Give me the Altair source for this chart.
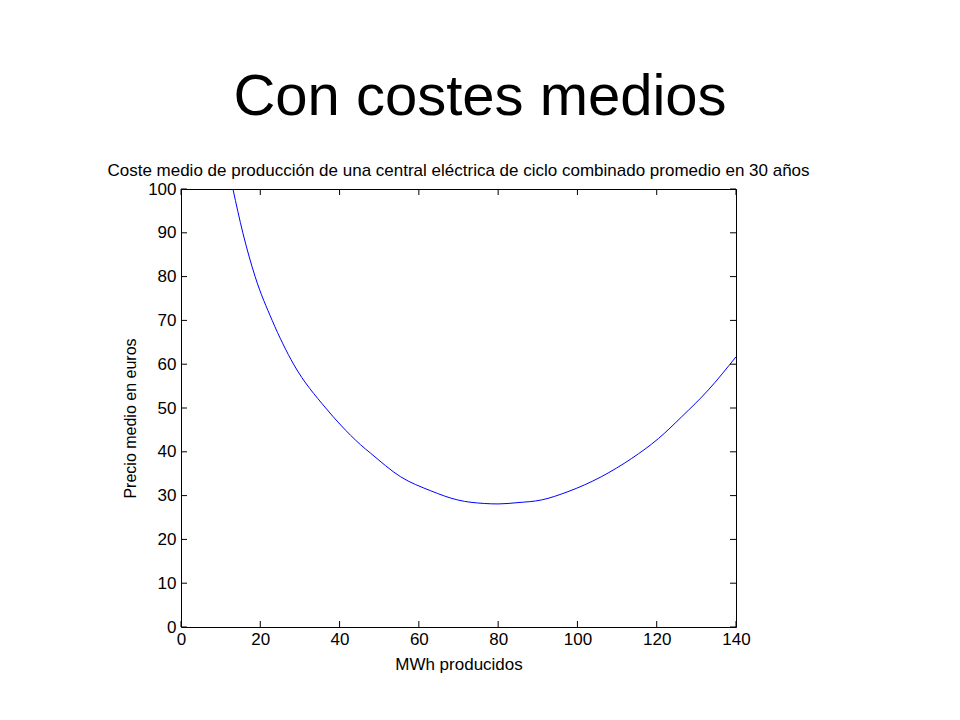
import altair as alt
import pandas as pd

# Data
mwh = [13.1, 15.6, 18.7, 23.0, 28.4, 36.5, 40.3, 45.3, 47.8, 55.4, 63.0, 69.8, 76.5, 80.0,
       85.0, 90.9, 97.6, 106.0, 113.7, 120.4, 126.3, 133.0, 140.0]
precio = [100.0, 90.0, 80.0, 70.0, 60.0, 50.0, 46.1, 41.6, 39.7, 34.3, 31.1, 29.0, 28.2, 28.1,
          28.4, 29.0, 30.9, 34.3, 38.5, 43.0, 48.0, 54.1, 61.7]
x_ticks = [0, 20, 40, 60, 80, 100, 120, 140]
y_ticks = [0, 10, 20, 30, 40, 50, 60, 70, 80, 90, 100]

main_title = "Con costes medios"
plot_title = "Coste medio de producción de una central eléctrica de ciclo combinado promedio en 30 años"
x_title = "MWh producidos"
y_title = "Precio medio en euros"

W, H = 555, 438
FONT = "Liberation Sans"
TL = 6

df = pd.DataFrame({"x": mwh, "y": precio})
dx = pd.DataFrame({"x": x_ticks})
dy = pd.DataFrame({"y": y_ticks})

xs = alt.Scale(domain=[0, 140], nice=False, zero=False)
ys = alt.Scale(domain=[0, 100], nice=False, zero=False)

xaxis = alt.Axis(values=x_ticks, labelFontSize=17, labelFont=FONT, labelColor="black",
                 labelPadding=4, labelFlush=False, labelOverlap=False,
                 titleFont=FONT, titleFontSize=17, titleFontWeight="normal",
                 titleColor="black", titleY=37, titleBaseline="middle")
yaxis = alt.Axis(values=y_ticks, labelFontSize=17, labelFont=FONT, labelColor="black",
                 labelPadding=5, labelFlush=False, labelOverlap=False,
                 titleFont=FONT, titleFontSize=16, titleFontWeight="normal",
                 titleColor="black", titleX=-51, titleY=229, titleBaseline="middle")

X = alt.X("x:Q", scale=xs, title=x_title, axis=xaxis)
Y = alt.Y("y:Q", scale=ys, title=y_title, axis=yaxis)

line = alt.Chart(df).mark_line(color="#0000ff", strokeWidth=1, interpolate="monotone", clip=True).encode(
    x=X, y=Y)

bottom_ticks = alt.Chart(dx).mark_rule(color="black", strokeWidth=1).encode(
    x=X, y=alt.value(H), y2=alt.value(H - TL))
top_ticks = alt.Chart(dx).mark_rule(color="black", strokeWidth=1).encode(
    x=X, y=alt.value(0), y2=alt.value(TL))
left_ticks = alt.Chart(dy).mark_rule(color="black", strokeWidth=1).encode(
    y=Y, x=alt.value(0), x2=alt.value(TL))
right_ticks = alt.Chart(dy).mark_rule(color="black", strokeWidth=1).encode(
    y=Y, x=alt.value(W), x2=alt.value(W - TL))

big = alt.Chart(pd.DataFrame({"t": [main_title]})).mark_text(
    font=FONT, fontSize=58, color="black", align="center", baseline="alphabetic").encode(
    text="t:N", x=alt.value(299), y=alt.value(-74))
small = alt.Chart(pd.DataFrame({"t": [plot_title]})).mark_text(
    font=FONT, fontSize=17, color="black", align="center", baseline="alphabetic").encode(
    text="t:N", x=alt.value(W / 2), y=alt.value(-13))

chart = alt.layer(line, bottom_ticks, top_ticks, left_ticks, right_ticks, big, small).properties(
    width=W, height=H,
    autosize=alt.AutoSizeParams(type="none"),
    padding={"left": 173, "top": 181, "right": 200, "bottom": 80},
    background="white",
).configure_view(stroke="black", strokeWidth=1).configure_axis(grid=False, domain=False, ticks=False)

chart.save("out.html", embed_options={"renderer": "svg", "actions": False})
